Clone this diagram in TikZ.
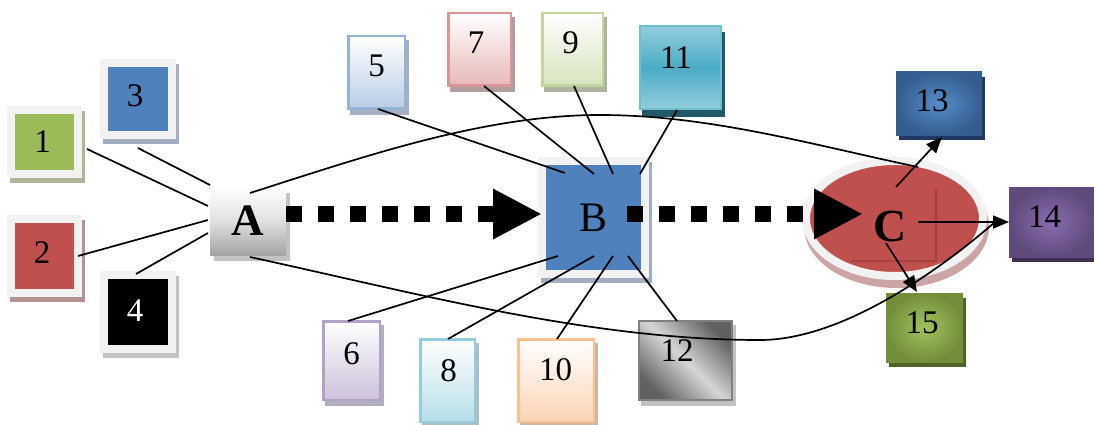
\documentclass[tikz,border=0pt]{standalone}
\usepackage{fontspec}
\setmainfont{Liberation Serif}
\usetikzlibrary{arrows.meta,calc,shapes.geometric}

% palette
\definecolor{frame}{HTML}{F2F2F2}
\definecolor{green1}{HTML}{9BBB59}
\definecolor{red1}{HTML}{C0504D}
\definecolor{blue1}{HTML}{4F81BD}
\definecolor{shgreen}{HTML}{ADB698}
\definecolor{shred}{HTML}{B39391}
\definecolor{shblue}{HTML}{A3ADC2}
\definecolor{shgray}{HTML}{C2C2C2}
\definecolor{bd5}{HTML}{95B3D7}\definecolor{bt5}{HTML}{B9CDE5}\definecolor{sh5}{HTML}{A6B0C2}
\definecolor{bd7}{HTML}{D99694}\definecolor{bt7}{HTML}{E6B9B8}\definecolor{sh7}{HTML}{B09E9E}
\definecolor{bd9}{HTML}{C3D69B}\definecolor{bt9}{HTML}{D7E4BD}\definecolor{sh9}{HTML}{ADB39E}
\definecolor{bd6}{HTML}{B3A2C7}\definecolor{bt6}{HTML}{CCC1DA}\definecolor{sh6}{HTML}{B3AEBD}
\definecolor{bd8}{HTML}{93CDDD}\definecolor{bt8}{HTML}{B7DEE8}\definecolor{sh8}{HTML}{AABEC4}
\definecolor{bd10}{HTML}{FAC090}\definecolor{bt10}{HTML}{FBD4B4}\definecolor{sh10}{HTML}{CCB5A2}
\definecolor{teal1}{HTML}{4BACC6}\definecolor{teal2}{HTML}{93CDDD}\definecolor{teal3}{HTML}{215968}
\definecolor{b13in}{HTML}{568DC9}\definecolor{b13out}{HTML}{355E90}\definecolor{sh13}{HTML}{1F3864}
\definecolor{b14in}{HTML}{8A6CB0}\definecolor{b14out}{HTML}{5F4A7C}\definecolor{sh14}{HTML}{3F3151}
\definecolor{b15in}{HTML}{A0C45E}\definecolor{b15out}{HTML}{728E3A}\definecolor{sh15}{HTML}{4F6228}
\definecolor{shC}{HTML}{CCA4A4}
\definecolor{crossC}{HTML}{9A3C3A}

% diagonal steel shading: dark corners, light band
\pgfdeclarehorizontalshading{steel}{100bp}{color(0bp)=(black!62); color(25bp)=(black!62); color(50bp)=(black!16); color(75bp)=(black!62); color(100bp)=(black!62)}

\newcommand\numfont{\fontsize{33}{33}\selectfont}

\tikzset{
  tile/.style={rectangle, inner sep=0pt, font=\numfont},
  numlbl/.style={font=\numfont, inner sep=0pt},
  solidtile/.style 2 args={tile, fill=#1, draw=frame, line width=8pt,
    preaction={fill=#2, draw=#2, line width=8pt, transform canvas={shift={(3,5)}}}},
  gradtile/.style n args={3}{tile, draw=#1, line width=2.5pt, top color=white, bottom color=#2,
    preaction={fill=#3, draw=#3, line width=2.5pt, transform canvas={shift={(3,5)}}}},
  glowtile/.style n args={3}{tile, inner color=#1, outer color=#2,
    preaction={fill=#3, transform canvas={shift={(3,5)}}}},
  link/.style={line width=1.7pt, black},
  pointer/.style={link, -{Triangle[length=16pt,width=13pt]}},
  flow/.style={line width=16pt, dash pattern=on 16pt off 16pt,
    -{Triangle[length=49pt,width=47pt]}},
}

\begin{document}
\begin{tikzpicture}[x=1pt,y=-1pt]
\useasboundingbox (0,0) rectangle (1094,425);

% ---- left group ----
\node[solidtile={green1}{shgreen}, minimum width=67, minimum height=64,
      label={[name=l1, numlbl, shift={(-2,-0.5)}]center:1}] (n1) at (44.5,142) {};
\node[solidtile={blue1}{shblue}, minimum width=68, minimum height=72,
      label={[name=l3, numlbl, shift={(-3,-3)}]center:3}] (n3) at (138,99) {};
\node[solidtile={red1}{shred}, minimum width=67, minimum height=74,
      label={[name=l2, numlbl, shift={(-2.5,-3.5)}]center:2}] (n2) at (44.5,256) {};
\node[solidtile={black}{shgray}, minimum width=68, minimum height=74,
      label={[name=l4, numlbl, text=white, shift={(-3,-1)}]center:4}] (n4) at (138,312) {};

\node[tile, minimum width=76, minimum height=68, top color=white, bottom color=black!36,
      middle color=black!12, preaction={fill=shgray, transform canvas={shift={(4,6)}}},
      font=\bfseries\fontsize{45}{45}\selectfont] (A) at (248,221) {A};

% ---- middle group ----
\node[solidtile={blue1}{shblue}, minimum width=103, minimum height=113,
      font=\fontsize{42}{42}\selectfont] (B) at (593.5,217.5) {B};

\node[gradtile={bd5}{bt5}{sh5}, minimum width=56.5, minimum height=72.5,
      label={[name=l5, numlbl, shift={(0,-6.5)}]center:5}] (n5) at (376.5,72.5) {};
\node[gradtile={bd7}{bt7}{sh7}, minimum width=62.5, minimum height=72.5,
      label={[name=l7, numlbl, shift={(-3.5,-7)}]center:7}] (n7) at (479.5,49.5) {};
\node[gradtile={bd9}{bt9}{sh9}, minimum width=60.5, minimum height=72.5,
      label={[name=l9, numlbl, shift={(-2,-6.5)}]center:9}] (n9) at (572.5,49.5) {};
\node[tile, draw=teal1!80!white, line width=2pt, top color=teal2, bottom color=teal2, middle color=teal1,
      preaction={fill=teal3, draw=teal3, line width=2pt, transform canvas={shift={(3,7)}}},
      minimum width=81, minimum height=83,
      label={[name=l11, numlbl, shift={(-4.5,-10)}]center:11}] (n11) at (680.5,67.5) {};

\node[gradtile={bd6}{bt6}{sh6}, minimum width=56.5, minimum height=78.5,
      label={[name=l6, numlbl, shift={(0,-7)}]center:6}] (n6) at (351.5,360.5) {};
\node[gradtile={bd8}{bt8}{sh8}, minimum width=54.5, minimum height=82.5,
      label={[name=l8, numlbl, shift={(1,-10)}]center:8}] (n8) at (447.5,380.5) {};
\node[gradtile={bd10}{bt10}{sh10}, minimum width=75.5, minimum height=82.5,
      label={[name=l10, numlbl, shift={(-0.5,-10.5)}]center:10}] (n10) at (556,380.5) {};
\node[tile, draw=black!50, line width=2pt, shading=steel, shading angle=45,
      preaction={fill=shgray, draw=shgray, line width=2pt, transform canvas={shift={(3,5)}}},
      minimum width=93, minimum height=79,
      label={[name=l12, numlbl, shift={(-8.5,-9.5)}]center:12}] (n12) at (685.5,360.5) {};

% ---- right group ----
\node[ellipse, inner sep=0pt, minimum width=177, minimum height=115,
      fill=red1, draw=frame, line width=8pt,
      preaction={fill=shC, draw=shC, line width=8pt, transform canvas={shift={(2,8)}}},
      label={[name=lC, font=\bfseries\fontsize{46}{46}\selectfont, inner sep=0pt, shift={(-4.5,7.5)}]center:C}]
      (C) at (894.5,218.5) {};
\draw[crossC, line width=1.6pt, opacity=0.7] ($(C)+(41.5,-30.5)$) -- ($(C)+(41.5,42.5)$) -- ($(C)+(-43.5,42.5)$);

\node[glowtile={b13in}{b13out}{sh13}, minimum width=86, minimum height=63,
      label={[name=l13, numlbl, shift={(-7,-2.5)}]center:13}] (n13) at (939,103.5) {};
\node[glowtile={b14in}{b14out}{sh14}, minimum width=85, minimum height=70,
      label={[name=l14, numlbl, shift={(-7,-5)}]center:14}] (n14) at (1051.5,222) {};
\node[glowtile={b15in}{b15out}{sh15}, minimum width=77, minimum height=69,
      label={[name=l15, numlbl, shift={(-2.5,-5)}]center:15}] (n15) at (924.5,327.5) {};

% ---- spokes into A ----
\draw[link] ($(n1)+(42.5,7)$) -- ($(A)+(-40,-15)$);
\draw[link] ($(n3)+(0,49)$) -- ($(A)+(-38,-36)$);
\draw[link] ($(n2)+(33.5,0)$) -- ($(A)+(-40,-1)$);
\draw[link] ($(n4)+(-2,-38)$) -- ($(A)+(-40,12)$);

% ---- spokes into B ----
\draw[link] ($(n5)+(1.5,36.5)$) -- ($(B)+(-28.5,-44.5)$);
\draw[link] ($(n7)+(4.5,36.5)$) -- ($(B)+(0.5,-43.5)$);
\draw[link] ($(n9)+(1.5,36.5)$) -- ($(B)+(19.5,-43.5)$);
\draw[link] ($(n11)+(-3.5,42.5)$) -- ($(B)+(46.5,-43.5)$);
\draw[link] ($(n6)+(-3.5,-39.5)$) -- ($(B)+(-35.5,38.5)$);
\draw[link] ($(n8)+(0.5,-41.5)$) -- ($(B)+(0.5,38.5)$);
\draw[link] ($(n10)+(1,-41.5)$) -- ($(B)+(19.5,38.5)$);
\draw[link] ($(n12)+(-8.5,-39.5)$) -- ($(B)+(34.5,38.5)$);

% ---- long arcs from A ----
\draw[link] ($(A)+(2,-28)$) .. controls (366,156) and (484,115) .. (600,115)
            .. controls (710,115) and (813,145) .. ($(C)+(23.5,-51.5)$);
\draw[link] ($(A)+(2,36)$) .. controls (420,294) and (590,340) .. (760,340)
            .. controls (840,340) and (935,274) .. ($(n14)+(-56.5,0)$);

% ---- main flow ----
\draw[flow] ($(A)+(38,-7)$) -- ($(B)+(-51.5,-3.5)$);
\draw[flow] ($(B)+(33.5,-3.5)$) -- ($(C)+(-31.5,-4.5)$);

% ---- outputs of C ----
\draw[pointer] ($(C)+(1.5,-31.5)$) -- ($(n13)+(3,33.5)$);
\draw[pointer] ($(C)+(23.5,3.5)$) -- ($(n14)+(-42.5,0)$);
\draw[pointer] ($(C)+(-8.5,24.5)$) -- ($(n15)+(-7.5,-35.5)$);
\end{tikzpicture}
\end{document}
